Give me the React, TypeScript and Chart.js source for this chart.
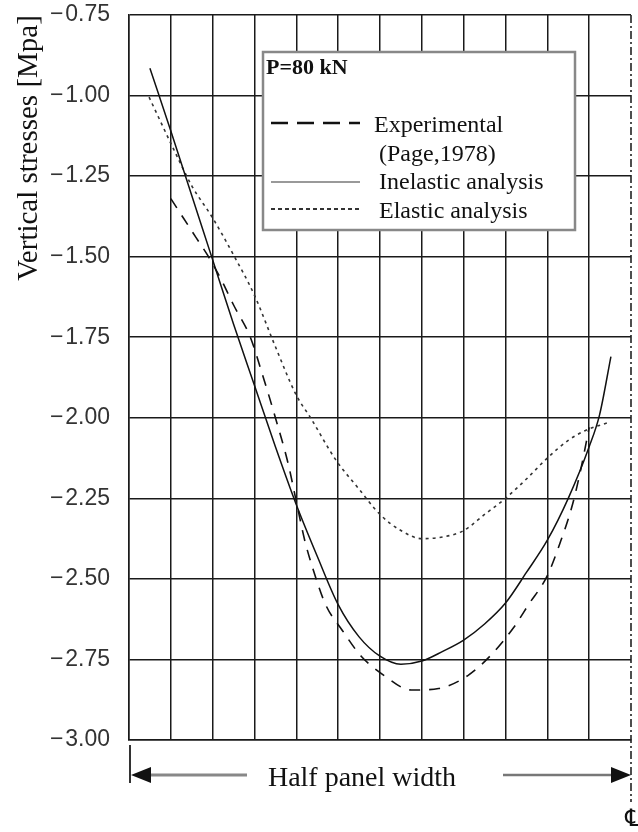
import React, { useEffect, useRef } from "react";
import { Chart, registerables } from "chart.js";

Chart.register(...registerables);

// Positions along the half panel width (grid units 0..12, 12 = centre line)
const expX = [1.0, 1.3, 1.6, 1.9, 2.2, 2.5, 2.9, 3.2, 3.5, 3.8, 4.0, 4.2, 4.4, 4.7, 5.1, 5.55, 6.1, 6.75, 7.4, 8.1, 8.7, 9.2, 9.55, 10.0, 10.3, 10.6, 10.8, 11.0];
const expY = [-1.32, -1.38, -1.44, -1.5, -1.57, -1.65, -1.75, -1.87, -2.0, -2.14, -2.26, -2.38, -2.47, -2.58, -2.66, -2.74, -2.8, -2.845, -2.84, -2.8, -2.73, -2.65, -2.58, -2.49, -2.39, -2.27, -2.16, -2.03];

const inelX = [0.5, 1.0, 1.5, 2.0, 2.5, 3.0, 3.5, 4.0, 4.5, 5.0, 5.5, 6.0, 6.5, 7.0, 7.5, 8.0, 8.5, 9.0, 9.5, 10.0, 10.5, 11.0, 11.25, 11.52];
const inelY = [-0.915, -1.11, -1.31, -1.51, -1.71, -1.9, -2.09, -2.27, -2.43, -2.58, -2.68, -2.74, -2.765, -2.755, -2.725, -2.69, -2.64, -2.575, -2.48, -2.38, -2.25, -2.09, -1.99, -1.81];

const elX = [0.48, 1.08, 1.5, 2.0, 2.5, 3.0, 3.47, 4.0, 4.34, 4.94, 5.49, 6.0, 6.5, 7.0, 7.5, 8.0, 8.5, 9.0, 9.5, 10.0, 10.5, 10.9, 11.45];
const elY = [-1.005, -1.17, -1.28, -1.38, -1.495, -1.62, -1.77, -1.93, -2.0, -2.13, -2.22, -2.3, -2.35, -2.375, -2.37, -2.35, -2.3, -2.25, -2.19, -2.125, -2.07, -2.04, -2.015];

const yTicks = [-3.0, -2.75, -2.5, -2.25, -2.0, -1.75, -1.5, -1.25, -1.0, -0.75];

const legendTitle = "P=80 kN";
const legendLines = ["Experimental", "(Page,1978)", "Inelastic analysis", "Elastic analysis"];
const yTitle = "Vertical stresses [Mpa]";
const xNote = "Half panel width";

const pts = (xs: number[], ys: number[]) => xs.map((x, i) => ({ x, y: ys[i] }));

const SERIF = "'Liberation Serif', 'Times New Roman', serif";

const overlay = {
  id: "overlay",
  afterDraw(chart: any) {
    const ctx = chart.ctx as CanvasRenderingContext2D;
    const xs = chart.scales.x;
    const area = chart.chartArea;
    const cx = xs.getPixelForValue(12);
    ctx.save();

    // centre line (dash-dot)
    ctx.strokeStyle = "#222";
    ctx.lineWidth = 1.6;
    ctx.setLineDash([8, 3, 2, 3]);
    ctx.beginPath();
    ctx.moveTo(cx, area.top);
    ctx.lineTo(cx, 802);
    ctx.stroke();
    ctx.setLineDash([]);

    // legend box
    ctx.fillStyle = "#fff";
    ctx.fillRect(263, 52, 312, 178);
    ctx.strokeStyle = "#888";
    ctx.lineWidth = 2.5;
    ctx.strokeRect(263, 52, 312, 178);

    ctx.fillStyle = "#111";
    ctx.textAlign = "left";
    ctx.textBaseline = "alphabetic";
    ctx.font = `bold 22px ${SERIF}`;
    ctx.fillText(legendTitle, 266, 74);

    ctx.font = `24px ${SERIF}`;
    ctx.fillText(legendLines[0], 374, 132);
    ctx.fillText(legendLines[1], 379, 161);
    ctx.fillText(legendLines[2], 379, 189);
    ctx.fillText(legendLines[3], 379, 218);

    // legend samples
    ctx.strokeStyle = "#111";
    ctx.lineWidth = 2.6;
    ctx.setLineDash([17, 9]);
    ctx.beginPath();
    ctx.moveTo(271, 123);
    ctx.lineTo(360, 123);
    ctx.stroke();

    ctx.setLineDash([]);
    ctx.strokeStyle = "#777";
    ctx.lineWidth = 1.5;
    ctx.beginPath();
    ctx.moveTo(271, 182);
    ctx.lineTo(360, 182);
    ctx.stroke();

    ctx.setLineDash([4, 3]);
    ctx.strokeStyle = "#333";
    ctx.lineWidth = 2;
    ctx.beginPath();
    ctx.moveTo(271, 209);
    ctx.lineTo(360, 209);
    ctx.stroke();
    ctx.setLineDash([]);

    // y-axis title
    ctx.save();
    ctx.translate(29, 148);
    ctx.rotate(-Math.PI / 2);
    ctx.font = `29px ${SERIF}`;
    ctx.fillStyle = "#111";
    ctx.textAlign = "center";
    ctx.textBaseline = "middle";
    ctx.fillText(yTitle, 0, 0);
    ctx.restore();

    // bottom annotation
    const lx = area.left;
    ctx.strokeStyle = "#333";
    ctx.lineWidth = 2;
    ctx.beginPath();
    ctx.moveTo(lx + 1, 745);
    ctx.lineTo(lx + 1, 783);
    ctx.stroke();

    ctx.strokeStyle = "#888";
    ctx.lineWidth = 3;
    ctx.beginPath();
    ctx.moveTo(lx + 18, 775);
    ctx.lineTo(247, 775);
    ctx.stroke();
    ctx.fillStyle = "#111";
    ctx.beginPath();
    ctx.moveTo(lx + 2, 775);
    ctx.lineTo(lx + 22, 767);
    ctx.lineTo(lx + 22, 783);
    ctx.closePath();
    ctx.fill();

    ctx.strokeStyle = "#777";
    ctx.lineWidth = 2.5;
    ctx.beginPath();
    ctx.moveTo(503, 775);
    ctx.lineTo(cx - 16, 775);
    ctx.stroke();
    ctx.beginPath();
    ctx.moveTo(cx, 775);
    ctx.lineTo(cx - 20, 767);
    ctx.lineTo(cx - 20, 783);
    ctx.closePath();
    ctx.fill();

    ctx.font = `28px ${SERIF}`;
    ctx.textAlign = "center";
    ctx.textBaseline = "alphabetic";
    ctx.fillText(xNote, 362, 786);

    ctx.font = "24px 'DejaVu Sans'";
    ctx.fillText("\u2104", cx + 2, 826);

    ctx.restore();
  },
};

export default function App() {
  const ref = useRef<HTMLCanvasElement | null>(null);
  useEffect(() => {
    if (!ref.current) return;
    const chart = new Chart(ref.current, {
      type: "line",
      data: {
        datasets: [
          {
            label: "Experimental (Page,1978)",
            data: pts(expX, expY),
            borderColor: "#111",
            borderWidth: 1.6,
            borderDash: [11, 9],
            pointRadius: 0,
            cubicInterpolationMode: "monotone",
          },
          {
            label: "Inelastic analysis",
            data: pts(inelX, inelY),
            borderColor: "#111",
            borderWidth: 1.5,
            pointRadius: 0,
            cubicInterpolationMode: "monotone",
          },
          {
            label: "Elastic analysis",
            data: pts(elX, elY),
            borderColor: "#333",
            borderWidth: 1.6,
            borderDash: [3, 4],
            pointRadius: 0,
            cubicInterpolationMode: "monotone",
          },
        ],
      },
      options: {
        animation: false,
        responsive: false,
        layout: { padding: { left: 0, top: 15, right: 7, bottom: 92 } },
        plugins: { legend: { display: false }, tooltip: { enabled: false } },
        scales: {
          x: {
            type: "linear",
            min: 0,
            max: 12,
            ticks: { display: false, stepSize: 1 },
            grid: {
              drawTicks: false,
              color: (c: any) => (c.tick && c.tick.value === 12 ? "rgba(0,0,0,0)" : "#1a1a1a"),
              lineWidth: 1.5,
            },
            border: { display: true, color: "#1a1a1a", width: 1.5 },
            afterFit: (axis: any) => {
              axis.height = 0;
              axis.paddingLeft = 0;
              axis.paddingRight = 0;
            },
          },
          y: {
            type: "linear",
            min: yTicks[0],
            max: yTicks[yTicks.length - 1],
            afterBuildTicks: (axis: any) => {
              axis.ticks = yTicks.map((v) => ({ value: v }));
            },
            ticks: {
              padding: 19,
              color: "#333",
              font: { family: "'Liberation Sans', Arial, sans-serif", size: 23 },
              callback: (v: any) => (Number(v) < 0 ? "\u2212\u200A" : "") + Math.abs(Number(v)).toFixed(2),
            },
            grid: { drawTicks: false, color: "#1a1a1a", lineWidth: 1.5 },
            border: { display: true, color: "#1a1a1a", width: 1.5 },
            afterFit: (axis: any) => {
              axis.width = 129;
              axis.paddingTop = 0;
              axis.paddingBottom = 0;
            },
          },
        },
      },
      plugins: [overlay],
    } as any);
    return () => chart.destroy();
  }, []);
  return (
    <div style={{ position: "absolute", left: 0, top: 0, width: 638, height: 832, background: "#fff" }}>
      <canvas ref={ref} width={638} height={832} />
    </div>
  );
}
